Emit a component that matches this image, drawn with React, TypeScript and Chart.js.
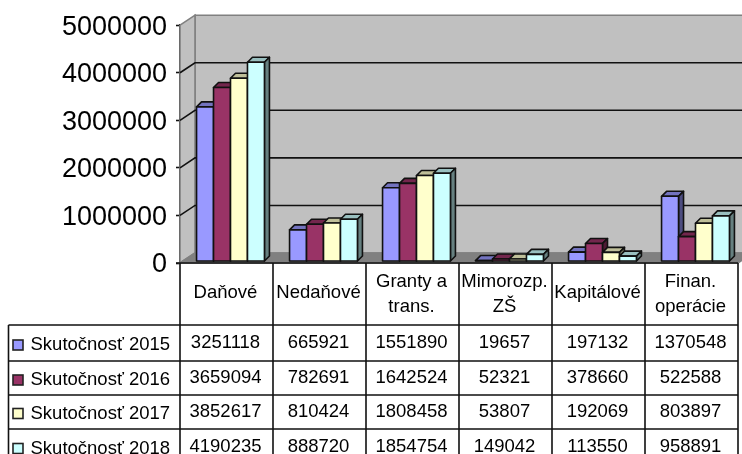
import React, { useEffect, useRef } from "react";
import { Chart, registerables } from "chart.js";

Chart.register(...registerables);

const categories: string[][] = [
  ["Daňové"],
  ["Nedaňové"],
  ["Granty a", "trans."],
  ["Mimorozp.", "ZŠ"],
  ["Kapitálové"],
  ["Finan.", "operácie"],
];
const seriesNames = ["Skutočnosť 2015", "Skutočnosť 2016", "Skutočnosť 2017", "Skutočnosť 2018"];
const s2015 = [3251118, 665921, 1551890, 19657, 197132, 1370548];
const s2016 = [3659094, 782691, 1642524, 52321, 378660, 522588];
const s2017 = [3852617, 810424, 1808458, 53807, 192069, 803897];
const s2018 = [4190235, 888720, 1854754, 149042, 113550, 958891];
const seriesValues = [s2015, s2016, s2017, s2018];
const seriesColors: number[][] = [
  [153, 153, 255],
  [153, 51, 102],
  [255, 255, 204],
  [204, 255, 255],
];

const FONT = '"Liberation Sans", Arial, sans-serif';
const WALL_DX = 15;
const WALL_DY = -10;
const BAR_DEPTH = 5;
const BAR_SHIFT_X = 4;
const BAR_SHIFT_Y = -1.5;
const ROW_LINES = [325, 361, 395, 429];
const ROW_VALUE_Y = [343, 378, 411.5, 446.5];
const LINE = "#111";
const LINE_W = 1.6;
const shade = (c: number[], f: number) => `rgb(${c.map((v) => Math.round(v * f)).join(",")})`;

const poly = (ctx: CanvasRenderingContext2D, pts: number[][], fill: string) => {
  ctx.beginPath();
  pts.forEach(([x, y], i) => (i ? ctx.lineTo(x, y) : ctx.moveTo(x, y)));
  ctx.closePath();
  ctx.fillStyle = fill;
  ctx.fill();
  ctx.stroke();
};

const wallsPlugin = {
  id: "walls",
  beforeDatasetsDraw(chart: any) {
    const { ctx, chartArea: a, scales } = chart;
    const y = scales.y;
    const bx = a.left + WALL_DX;
    const rx = a.right + WALL_DX;
    ctx.save();
    ctx.lineWidth = LINE_W;
    ctx.strokeStyle = "#808080";
    poly(ctx, [[bx, a.top + WALL_DY], [rx, a.top + WALL_DY], [rx, a.bottom + WALL_DY], [bx, a.bottom + WALL_DY]], "#c0c0c0");
    poly(ctx, [[a.left, a.top], [bx, a.top + WALL_DY], [bx, a.bottom + WALL_DY], [a.left, a.bottom]], "#c0c0c0");
    poly(ctx, [[a.left, a.bottom], [bx, a.bottom + WALL_DY], [rx, a.bottom + WALL_DY], [a.right, a.bottom]], "#808080");
    for (const t of y.ticks) {
      if (t.value <= y.min || t.value >= y.max) continue;
      const py = y.getPixelForValue(t.value);
      ctx.strokeStyle = LINE;
      ctx.beginPath();
      ctx.moveTo(a.left, py);
      ctx.lineTo(bx, py + WALL_DY);
      ctx.lineTo(rx, py + WALL_DY);
      ctx.stroke();
    }
    ctx.restore();

    // Draw the series first to last, so each one's front covers the earlier one's side.
    const d = BAR_DEPTH;
    seriesValues.forEach((_, i) => {
      const meta = chart.getDatasetMeta(i);
      const c = seriesColors[i];
      ctx.save();
      ctx.translate(BAR_SHIFT_X, BAR_SHIFT_Y);
      ctx.lineWidth = LINE_W;
      ctx.strokeStyle = LINE;
      ctx.lineJoin = "round";
      for (const el of meta.data) {
        const x0 = el.x - el.width / 2;
        const x1 = el.x + el.width / 2;
        poly(ctx, [[x0, el.y], [x0 + d, el.y - d], [x1 + d, el.y - d], [x1, el.y]], shade(c, 0.75));
        poly(ctx, [[x1, el.y], [x1 + d, el.y - d], [x1 + d, el.base - d], [x1, el.base]], shade(c, 0.5));
      }
      meta.controller.draw();
      for (const el of meta.data) {
        ctx.strokeRect(el.x - el.width / 2, el.y, el.width, el.base - el.y);
      }
      ctx.restore();
    });
    return false;
  },
  afterDraw(chart: any) {
    const { ctx, chartArea: a, scales, height } = chart;
    const x = scales.x;
    ctx.save();
    ctx.strokeStyle = LINE;
    ctx.lineWidth = LINE_W;
    ctx.beginPath();
    ctx.moveTo(a.left - 4, a.bottom);
    ctx.lineTo(a.right, a.bottom);
    for (let i = 0; i <= categories.length; i++) {
      const px = a.left + (a.right - a.left) * (i / categories.length);
      ctx.moveTo(px, a.bottom);
      ctx.lineTo(px, height);
    }
    ctx.moveTo(8.5, ROW_LINES[0]);
    ctx.lineTo(8.5, height);
    for (const ry of ROW_LINES) {
      ctx.moveTo(8.5, ry);
      ctx.lineTo(a.right, ry);
    }
    ctx.stroke();

    ctx.fillStyle = "#000";
    ctx.textBaseline = "middle";
    ctx.font = `18.5px ${FONT}`;
    ctx.textAlign = "center";
    categories.forEach((lines, i) => {
      const cx = x.getPixelForValue(i) - 1;
      if (lines.length === 1) ctx.fillText(lines[0], cx, 293);
      else {
        ctx.fillText(lines[0], cx, 281.5);
        ctx.fillText(lines[1], cx, 307);
      }
    });
    seriesValues.forEach((vals, r) => {
      vals.forEach((v, i) => ctx.fillText(String(v), x.getPixelForValue(i) - 1, ROW_VALUE_Y[r]));
    });
    ctx.textAlign = "left";
    seriesNames.forEach((name, r) => {
      const ty = ROW_VALUE_Y[r] + 2;
      ctx.fillStyle = "#000";
      ctx.fillText(name, 30.5, ty);
      ctx.fillStyle = shade(seriesColors[r], 1);
      ctx.lineWidth = 1.6;
      ctx.strokeStyle = "#222";
      ctx.fillRect(13, ty - 5, 10, 10);
      ctx.strokeRect(13, ty - 5, 10, 10);
    });
    ctx.restore();
  },
};

export default function App() {
  const ref = useRef<HTMLCanvasElement>(null);
  useEffect(() => {
    const chart = new Chart(ref.current!, {
      type: "bar",
      data: {
        labels: categories.map((c) => c.join(" ")),
        datasets: seriesValues.map((data, i) => ({
          label: seriesNames[i],
          data,
          backgroundColor: shade(seriesColors[i], 1),
          borderWidth: 0,
          clip: false as any,
          barPercentage: 1,
          categoryPercentage: 0.73,
        })),
      },
      options: {
        responsive: false,
        animation: false,
        devicePixelRatio: 1,
        layout: { padding: { top: 25, bottom: 191, left: 0, right: 4 } },
        plugins: { legend: { display: false }, tooltip: { enabled: false }, title: { display: false } },
        scales: {
          x: {
            grid: { display: false },
            border: { display: false },
            ticks: { display: false },
            afterFit: (s: any) => {
              s.height = 0;
            },
          },
          y: {
            min: 0,
            max: 5000000,
            ticks: {
              stepSize: 1000000,
              padding: 9,
              labelOffset: 2,
              color: "#000",
              font: { family: FONT, size: 27 },
              callback: (v: any) => String(v),
            },
            grid: { drawOnChartArea: false, tickLength: 4, tickColor: LINE, tickWidth: LINE_W },
            border: { color: LINE, width: LINE_W },
            afterFit: (s: any) => {
              s.width = 180;
            },
          },
        },
      },
      plugins: [wallsPlugin],
    } as any);
    return () => chart.destroy();
  }, []);
  return (
    <div style={{ position: "fixed", left: 0, top: 0, width: 742, height: 454, background: "#fff" }}>
      <canvas ref={ref} width={742} height={454} style={{ display: "block" }} />
    </div>
  );
}
